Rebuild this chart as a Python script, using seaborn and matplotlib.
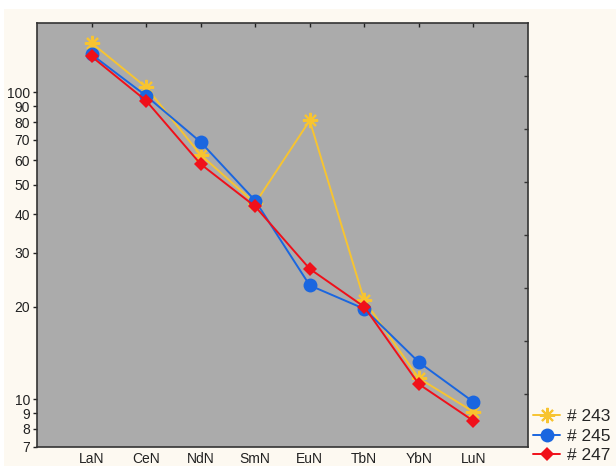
import matplotlib
matplotlib.use("Agg")
import matplotlib.pyplot as plt
import matplotlib.ticker as mticker
from matplotlib.patches import Rectangle
import seaborn as sns
import pandas as pd

# REE normalised values per sample
elements = ["LaN", "CeN", "NdN", "SmN", "EuN", "TbN", "YbN", "LuN"]
s243 = [145, 104, 62.6, 43.5, 81, 21, 11.7, 9.1]
s245 = [133, 97.5, 68.9, 44.4, 23.5, 19.7, 13.2, 9.8]
s247 = [131, 94, 58.4, 42.5, 26.6, 20.0, 11.2, 8.5]
labels = ["# 243", "# 245", "# 247"]
ytick_vals = [7, 8, 9, 10, 20, 30, 40, 50, 60, 70, 80, 90, 100]

sns.set_style("white")
plt.rcParams["font.family"] = ["Liberation Sans", "DejaVu Sans"]

fig = plt.figure(figsize=(6.16, 4.66), dpi=100, facecolor="white")
# cream canvas panel behind the chart
fig.patches.append(Rectangle((4 / 616, 0), 1, 1 - 9 / 466, transform=fig.transFigure,
                             facecolor="#fdf9f1", edgecolor="none", zorder=-10))
ax = fig.add_axes([0.060, 0.0414, 0.797, 0.9086])
ax.set_facecolor("#ababab")

styles = [
    dict(color="#f7c431", marker=(8, 2, 0), ms=11, mew=1.5),
    dict(color="#1a66e0", marker="o", ms=10, mew=0),
    dict(color="#f0101a", marker="D", ms=7.5, mew=0),
]
for vals, lab, st in zip([s243, s245, s247], labels, styles):
    df = pd.DataFrame({"el": elements, "val": vals})
    sns.lineplot(data=df, x="el", y="val", sort=False, ax=ax, label=lab,
                 color=st["color"], marker=st["marker"], markersize=st["ms"],
                 markeredgewidth=st["mew"], markeredgecolor=st["color"],
                 linewidth=1.4)

ax.set_yscale("log")
ax.set_ylim(7, 168)
ax.set_xlim(-1, 8)
ax.yaxis.set_major_locator(mticker.FixedLocator(ytick_vals))
ax.yaxis.set_major_formatter(mticker.FixedFormatter([str(v) for v in ytick_vals]))
ax.yaxis.set_minor_locator(mticker.NullLocator())
ax.set_xlabel("")
ax.set_ylabel("")

ax.tick_params(axis="both", labelsize=10, colors="#222222", length=3, width=1)
ax.tick_params(axis="x", direction="in", top=True, pad=3.5)
ax.tick_params(axis="y", direction="out", pad=2)
for s in ax.spines.values():
    s.set_color("#333333")
    s.set_linewidth(1.2)
    s.set_visible(True)

# Right-side evenly spaced ticks
ax2 = ax.twinx()
ax2.set_ylim(0, 8)
ax2.set_yticks(range(1, 8))
ax2.tick_params(axis="y", direction="in", length=3, width=1, labelright=False,
                colors="#333333")
for s in ax2.spines.values():
    s.set_visible(False)

handles, labs = ax.get_legend_handles_labels()
ax.legend_.remove()
fig.legend(handles, labs, loc="lower left", bbox_to_anchor=(0.866, 0.006),
           frameon=False, fontsize=12.5, handlelength=1.55, handletextpad=0.4,
           labelspacing=0.25, borderpad=0, borderaxespad=0)

fig.savefig("out.png", dpi=100, facecolor=fig.get_facecolor())
